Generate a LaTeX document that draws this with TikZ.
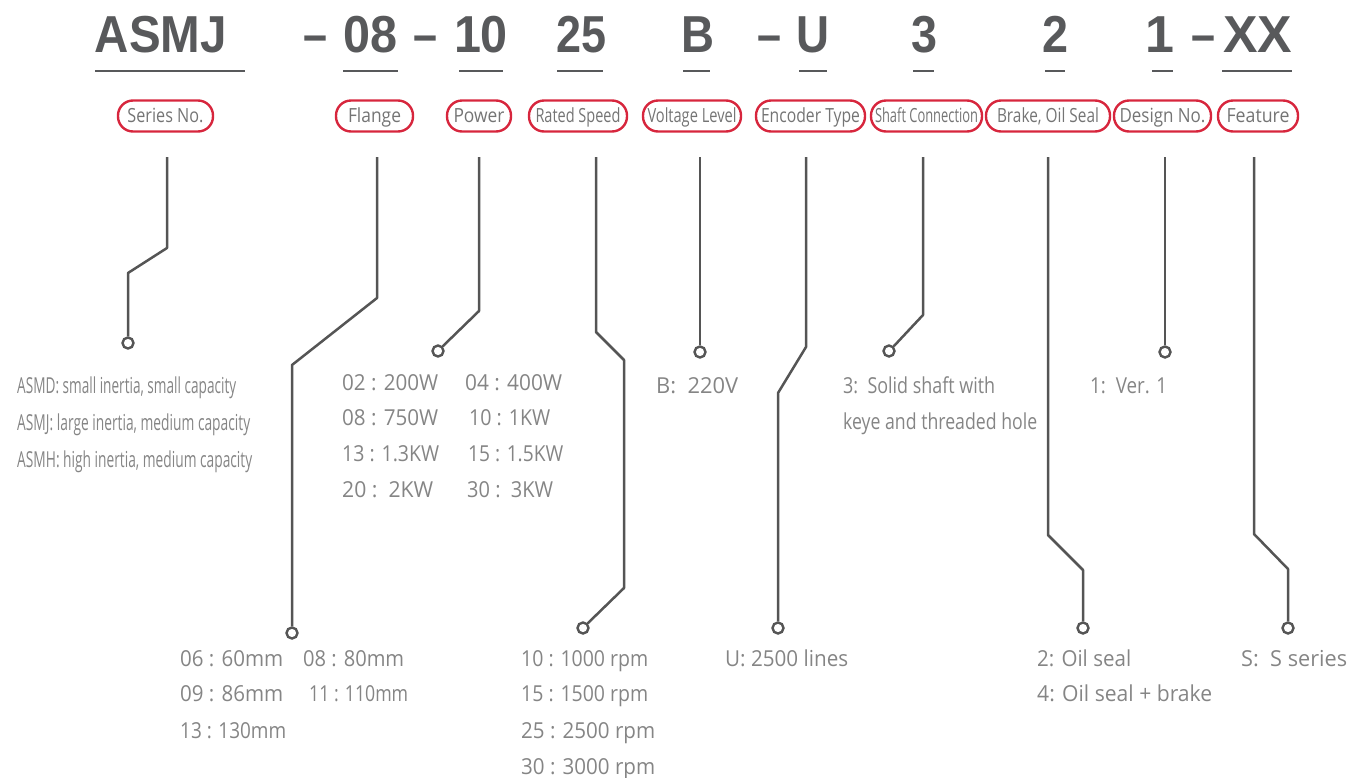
\documentclass[tikz,border=0pt]{standalone}
\usepackage{fontspec}
\usepackage{graphicx}
\setmainfont{Open Sans}
\newfontfamily\hdfont{Liberation Sans}
\definecolor{hdgray}{HTML}{58595B}
\definecolor{lngray}{HTML}{555555}
\definecolor{lbred}{HTML}{D7263D}
\definecolor{lbtext}{HTML}{747474}
\definecolor{bdtext}{HTML}{858585}
\newcommand\fw[2]{\resizebox{#1pt}{\height}{#2}}
\tikzset{
  hd/.style={anchor=base, inner sep=0, text=hdgray, font=\hdfont\bfseries\fontsize{52}{52}\selectfont},
  ul/.style={draw=hdgray, line width=2.6pt},
  lab/.style={draw=lbred, line width=2.4pt, rounded corners=15pt, minimum height=31pt, inner sep=0,
    text=lbtext, text height=15pt, text depth=3pt, font=\fontsize{19.5}{19.5}\selectfont},
  bt/.style={anchor=base west, inner sep=0, text=bdtext, font=\fontsize{22}{22}\selectfont},
  con/.style={draw=lngray, line width=2.5pt, line join=round},
  dot/.style={circle, draw=lngray, line width=2.4pt, fill=white, minimum size=11pt, inner sep=0},
}
\begin{document}
\begin{tikzpicture}[x=1pt,y=-1pt]
\useasboundingbox (0,0) rectangle (1352,777);
% header
\node[hd] (hASMJ) at (161,52) {\fw{132}{ASMJ}};
\node[hd] (hd1) at (315,52) {\fw{24}{–}};
\node[hd] (h08) at (370.5,52) {\fw{54}{08}};
\node[hd] (hd2) at (425,52) {\fw{24}{–}};
\node[hd] (h10) at (481,52) {\fw{54}{10}};
\node[hd] (h25) at (581.5,52) {\fw{50}{25}};
\node[hd] (hB) at (697.5,52) {\fw{33}{B}};
\node[hd] (hd3) at (769.5,52) {\fw{24}{–}};
\node[hd] (hU) at (812.5,52) {\fw{33}{U}};
\node[hd] (h3) at (924,52) {\fw{26}{3}};
\node[hd] (h2) at (1055.5,52) {\fw{26}{2}};
\node[hd] (h1) at (1159.5,52) {1};
\node[hd] (hd4) at (1203,52) {\fw{24}{–}};
\node[hd] (hXX) at (1257.5,52) {\fw{69}{XX}};
% underlines
\draw[ul] (95,71) -- (245,71);
\draw[ul] (343,71) -- (398,71);
\draw[ul] (459,71) -- (503,71);
\draw[ul] (557,71) -- (603,71);
\draw[ul] (683,71) -- (710,71);
\draw[ul] (799,71) -- (827,71);
\draw[ul] (913,71) -- (934,71);
\draw[ul] (1045,71) -- (1065,71);
\draw[ul] (1152,71) -- (1173,71);
\draw[ul] (1222,71) -- (1292,71);
% labels
\node[lab, minimum width=95pt] (lSeries) at (165.5,116) {\fw{76}{Series No.}};
\node[lab, minimum width=77pt] (lFlange) at (374.5,116) {\fw{53}{Flange}};
\node[lab, minimum width=64pt] (lPower) at (479,116) {\fw{51}{Power}};
\node[lab, minimum width=98pt] (lSpeed) at (578,116) {\fw{85}{Rated Speed}};
\node[lab, minimum width=98pt] (lVolt) at (692,116) {\fw{89}{Voltage Level}};
\node[lab, minimum width=109pt] (lEnc) at (810.5,116) {\fw{99}{Encoder Type}};
\node[lab, minimum width=111pt] (lShaft) at (926.5,116) {\fw{103}{Shaft Connection}};
\node[lab, minimum width=124pt] (lBrake) at (1048,116) {\fw{102}{Brake, Oil Seal}};
\node[lab, minimum width=97pt] (lDesign) at (1162.5,116) {\fw{86}{Design No.}};
\node[lab, minimum width=80pt] (lFeat) at (1258,116) {\fw{63}{Feature}};
% connector start points
\coordinate (s1) at (167,157);
\coordinate (s2) at (377,157);
\coordinate (s3) at (479,157);
\coordinate (s4) at (596,157);
\coordinate (s5) at (700,157);
\coordinate (s6) at (806,157);
\coordinate (s7) at (923,157);
\coordinate (s8) at (1048,157);
\coordinate (s9) at (1165,157);
\coordinate (s10) at (1254,157);
% end dots
\node[dot] (d1) at (128,343) {};
\node[dot] (d2) at (292,633) {};
\node[dot] (d3) at (438,351) {};
\node[dot] (d4) at (583,628) {};
\node[dot] (d5) at (700,352) {};
\node[dot] (d6) at (778,628) {};
\node[dot] (d7) at (889,351) {};
\node[dot] (d8) at (1083,628) {};
\node[dot] (d9) at (1165,352) {};
\node[dot] (d10) at (1288,628) {};
% connectors
\draw[con] (s1) -- (167,248) -- (128,273) -- (d1.north);
\draw[con] (s2) -- (377,298) -- (292,365) -- (d2.north);
\draw[con] (s3) -- (479,311) -- (d3.north east);
\draw[con] (s4) -- (596,332) -- (624,360) -- (624,588) -- (d4.north east);
\draw[con] (s5) -- (d5.north);
\draw[con] (s6) -- (806,347) -- (778,393) -- (d6.north);
\draw[con] (s7) -- (923,315) -- (d7.north east);
\draw[con] (s8) -- (1048,535) -- (1083,570) -- (d8.north);
\draw[con] (s9) -- (d9.north);
\draw[con] (s10) -- (1254,534) -- (1288,569) -- (d10.north);
% body texts
\node[bt] (t1a) at (17,393) {\fw{219}{ASMD: small inertia, small capacity}};
\node[bt] (t1b) at (17,430) {\fw{233}{ASMJ: large inertia, medium capacity}};
\node[bt] (t1c) at (17,467) {\fw{235}{ASMH: high inertia, medium capacity}};
\node[bt] (t3a) at (342,390) {\fw{96}{02 : 200W}};
\node[bt] (t3b) at (465,390) {\fw{97}{04 : 400W}};
\node[bt] (t3c) at (342,425) {\fw{96}{08 : 750W}};
\node[bt] (t3d) at (469,425) {\fw{81}{10 : 1KW}};
\node[bt] (t3e) at (342,461) {\fw{97}{13 : 1.3KW}};
\node[bt] (t3f) at (468,461) {\fw{95}{15 : 1.5KW}};
\node[bt] (t3g) at (342,497) {\fw{91}{20 :~~2KW}};
\node[bt] (t3h) at (467,497) {\fw{86}{30 :~~3KW}};
\node[bt] (t5) at (656,393) {\fw{82}{B:~~220V}};
\node[bt] (t7a) at (843,393) {\fw{152}{3:~~Solid shaft with}};
\node[bt] (t7b) at (843,429) {\fw{194}{keye and threaded hole}};
\node[bt] (t9) at (1090,393) {\fw{77}{1:~~Ver. 1}};
\node[bt] (t2a) at (180,666) {\fw{103}{06 : 60mm}};
\node[bt] (t2b) at (303,666) {\fw{101}{08 : 80mm}};
\node[bt] (t2c) at (180,701) {\fw{103}{09 : 86mm}};
\node[bt] (t2d) at (309,701) {\fw{99}{11 : 110mm}};
\node[bt] (t2e) at (180,738) {\fw{106}{13 : 130mm}};
\node[bt] (t4a) at (521,666) {\fw{127}{10 : 1000 rpm}};
\node[bt] (t4b) at (521,701) {\fw{127}{15 : 1500 rpm}};
\node[bt] (t4c) at (521,738) {\fw{134}{25 : 2500 rpm}};
\node[bt] (t4d) at (521,774) {\fw{134}{30 : 3000 rpm}};
\node[bt] (t6) at (725,666) {\fw{123}{U: 2500 lines}};
\node[bt] (t8a) at (1037,666) {\fw{94}{2: Oil seal}};
\node[bt] (t8b) at (1037,701) {\fw{175}{4: Oil seal + brake}};
\node[bt] (t10) at (1241,666) {\fw{106}{S:~~S series}};
\end{tikzpicture}
\end{document}
